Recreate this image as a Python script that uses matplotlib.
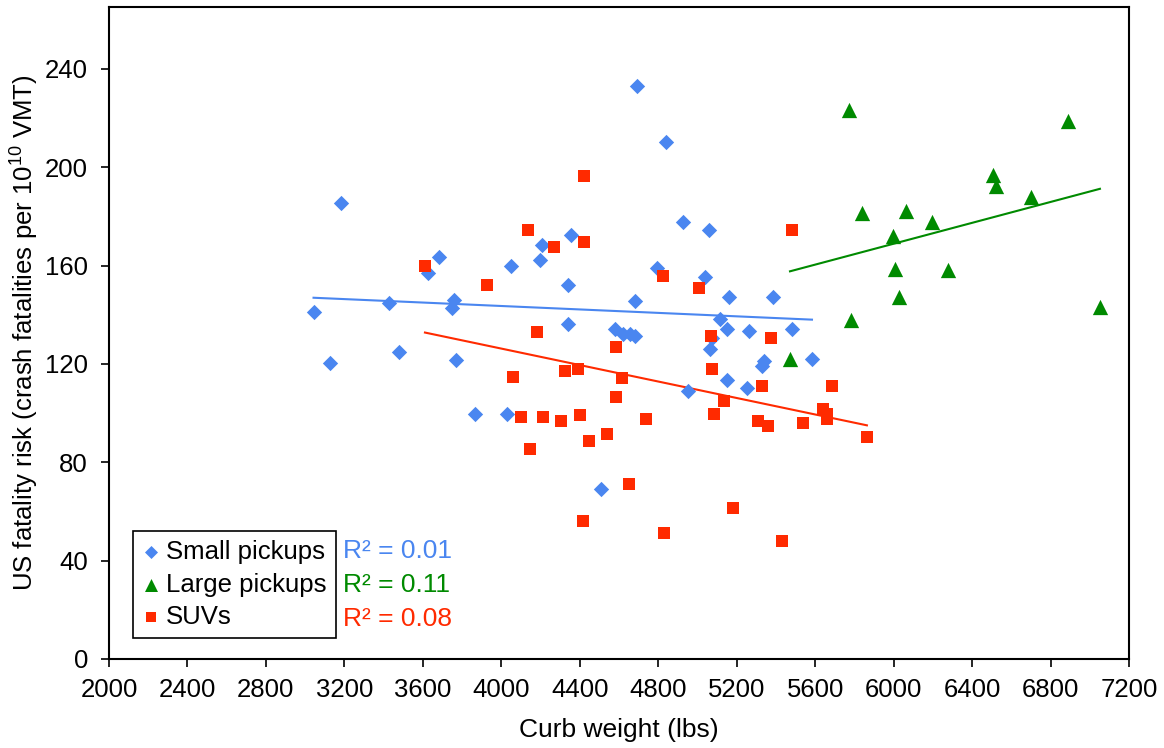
import numpy as np
import matplotlib
matplotlib.use("Agg")
import matplotlib.pyplot as plt

plt.rcParams['font.family'] = ['Liberation Sans', 'DejaVu Sans']
plt.rcParams['mathtext.default'] = 'regular'

# Small pickups: curb weight (lbs), fatality risk
small_x = [3043, 3127, 3184, 3429, 3478, 3626, 3681, 3759, 3747, 3769, 3864, 4031,
           4690, 4838, 4358, 4209, 4200, 4049, 4341, 4924, 5059, 4792, 5038, 5161,
           5384, 4681, 4341, 4580, 4622, 4656, 4681, 5115, 5149, 5263, 5480, 5072,
           5064, 5330, 5340, 5584, 5149, 5254, 4953, 4511]
small_y = [141.2, 120.2, 185.3, 144.7, 124.7, 156.8, 163.4, 145.9, 142.9, 121.5, 99.8, 99.8,
           233.2, 210.1, 172.6, 168.3, 162.4, 159.7, 152.3, 177.7, 174.6, 159.2, 155.3, 147.1,
           147.1, 145.5, 136.4, 134.3, 132.0, 132.0, 131.3, 138.1, 134.3, 133.4, 134.3, 130.6,
           125.9, 119.3, 121.2, 122.2, 113.4, 110.3, 109.0, 69.0]

# Large pickups
large_x = [5773, 6890, 6507, 6523, 6702, 5840, 6065, 6196, 5997, 6007, 6279, 6027,
           5783, 7052, 5472]
large_y = [223.4, 218.9, 197.0, 192.5, 187.9, 181.4, 182.1, 177.6, 171.9, 158.6, 158.1, 147.1,
           137.8, 143.1, 122.2]

# SUVs
suv_x = [3611, 3925, 4424, 4134, 4269, 4424, 5482, 4822, 5009, 4180, 4587, 5069,
         5375, 5072, 4060, 4325, 4389, 4615, 4587, 5327, 5686, 5138, 5638, 5660,
         5660, 5082, 4103, 4212, 4304, 4401, 4738, 5310, 5359, 5538, 5864, 4541,
         4447, 4146, 4651, 5181, 4416, 4829, 5432]
suv_y = [159.7, 152.3, 196.5, 174.6, 167.5, 169.6, 174.6, 155.9, 150.8, 133.0, 126.9, 131.3,
         130.5, 117.8, 114.7, 117.1, 117.8, 114.1, 106.6, 111.0, 111.0, 104.9, 101.8, 99.8,
         97.5, 99.8, 98.5, 98.5, 96.9, 99.2, 97.5, 96.9, 94.8, 96.0, 90.3, 91.4,
         88.7, 85.5, 71.2, 61.4, 56.3, 51.3, 47.9]

r2_labels = ['R² = 0.01', 'R² = 0.11', 'R² = 0.08']

blue = '#4a86f0'
green = '#008a00'
red = '#ff2a00'

fig = plt.figure(figsize=(11.64, 7.48), dpi=100)
ax = fig.add_axes([0.0936, 0.119, 0.8763, 0.871])

ax.scatter(small_x, small_y, marker='D', s=7.8**2, color=blue, linewidths=0,
           label='Small pickups', zorder=3)
ax.scatter(large_x, large_y, marker='^', s=11**2, color=green, linewidths=0,
           label='Large pickups', zorder=3)
ax.scatter(suv_x, suv_y, marker='s', s=8.6**2, color=red, linewidths=0,
           label='SUVs', zorder=3)

# linear trend lines
for xs, ys, c in [(small_x, small_y, blue), (large_x, large_y, green), (suv_x, suv_y, red)]:
    xs = np.array(xs)
    k, b = np.polyfit(xs, ys, 1)
    xx = np.array([xs.min(), xs.max()])
    ax.plot(xx, k * xx + b, color=c, lw=1.5, zorder=2)

ax.set_xlim(2000, 7200)
ax.set_ylim(0, 265)
ax.set_xticks(np.arange(2000, 7201, 400))
ax.set_yticks(np.arange(0, 241, 40))
ax.tick_params(direction='out', length=6, width=1.2, labelsize=18.5)
ax.tick_params(axis='x', pad=8)
ax.tick_params(axis='y', pad=9)
for sp in ax.spines.values():
    sp.set_linewidth(1.5)

ax.set_xlabel('Curb weight (lbs)', fontsize=19, labelpad=11)
ax.set_ylabel('US fatality risk (crash fatalities per 10$^{10}$ VMT)', fontsize=18.5, labelpad=3)

leg = ax.legend(loc='lower left', bbox_to_anchor=(0.0235, 0.032), fontsize=18.5,
                frameon=True, fancybox=False, edgecolor='black', framealpha=1,
                markerscale=0.85, handletextpad=0.25, handlelength=0.7,
                labelspacing=0.33, borderpad=0.35, borderaxespad=0)
leg.get_frame().set_linewidth(1.2)

for txt, c, yy in zip(r2_labels, [blue, green, red], [0.166, 0.1135, 0.061]):
    ax.text(0.229, yy, txt, color=c, fontsize=19, va='center', ha='left',
            transform=ax.transAxes)

fig.savefig('out.png', dpi=100)
